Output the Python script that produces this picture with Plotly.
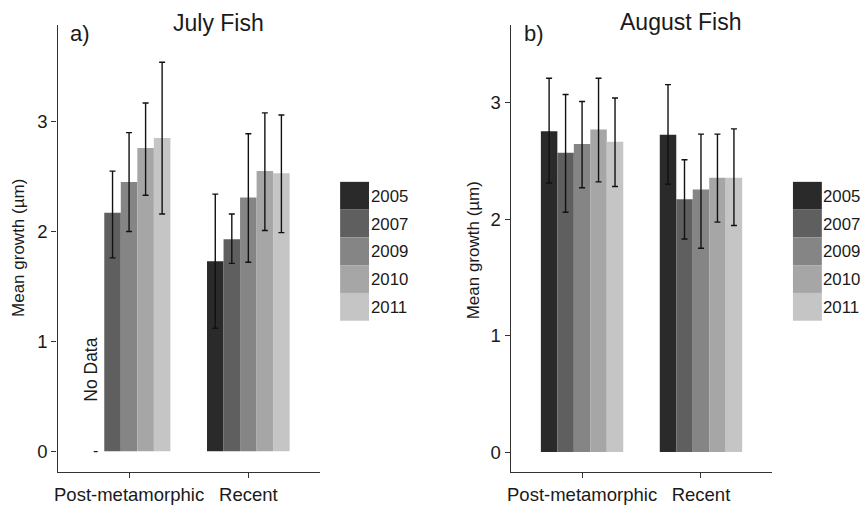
import plotly.graph_objects as go

W, H = 863, 505

years = ["2005", "2007", "2009", "2010", "2011"]
groups = ["Post-metamorphic", "Recent"]
colors = ["#2a2a2a", "#5f5f5f", "#858585", "#a6a6a6", "#c5c5c5"]

# July Fish (panel a)
july_mean_post = [None, 2.17, 2.45, 2.76, 2.85]
july_hi_post = [None, 2.55, 2.90, 3.17, 3.54]
july_lo_post = [None, 1.76, 2.00, 2.33, 2.16]
july_mean_recent = [1.73, 1.93, 2.31, 2.55, 2.53]
july_hi_recent = [2.34, 2.16, 2.89, 3.08, 3.06]
july_lo_recent = [1.12, 1.71, 1.72, 2.01, 1.99]

# August Fish (panel b)
aug_mean_post = [2.755, 2.57, 2.645, 2.77, 2.665]
aug_hi_post = [3.21, 3.07, 3.01, 3.21, 3.04]
aug_lo_post = [2.31, 2.06, 2.27, 2.32, 2.28]
aug_mean_recent = [2.725, 2.17, 2.255, 2.355, 2.355]
aug_hi_recent = [3.155, 2.51, 2.73, 2.73, 2.775]
aug_lo_recent = [2.30, 1.83, 1.75, 1.975, 1.945]

y_ticks = [0, 1, 2, 3]
FONT = "Liberation Sans, Arial, sans-serif"
TXT = "#1a1a1a"


def px(x):
    return x / W


def py(y):
    return 1 - y / H


def diff(a, b):
    return None if a is None or b is None else a - b


fig = go.Figure()

panels = [
    ("x", "y", (july_mean_post, july_hi_post, july_lo_post),
     (july_mean_recent, july_hi_recent, july_lo_recent)),
    ("x2", "y2", (aug_mean_post, aug_hi_post, aug_lo_post),
     (aug_mean_recent, aug_hi_recent, aug_lo_recent)),
]

for xa, ya, post, rec in panels:
    for i, yr in enumerate(years):
        means = [post[0][i], rec[0][i]]
        plus = [diff(post[1][i], post[0][i]), diff(rec[1][i], rec[0][i])]
        minus = [diff(post[0][i], post[2][i]), diff(rec[0][i], rec[2][i])]
        fig.add_trace(go.Bar(
            x=groups, y=means, name=yr, xaxis=xa, yaxis=ya,
            marker=dict(color=colors[i], line=dict(width=0)),
            error_y=dict(type="data", symmetric=False, array=plus,
                         arrayminus=minus, color="#111111",
                         thickness=1.4, width=3),
            showlegend=False,
        ))

axis_common = dict(showline=True, linecolor="#333333", linewidth=1.3,
                   ticks="outside", ticklen=5, tickwidth=1.2,
                   tickcolor="#333333", showgrid=False, zeroline=False,
                   tickfont=dict(family=FONT, size=18.5, color=TXT))

fig.update_layout(
    width=W, height=H,
    margin=dict(l=0, r=0, t=0, b=0),
    paper_bgcolor="white", plot_bgcolor="white",
    barmode="group", bargap=0.307, bargroupgap=0,
    font=dict(family=FONT, color=TXT),
    xaxis=dict(domain=[px(54.7), px(318)], anchor="y", range=[-0.6, 1.6],
               type="category", **axis_common),
    yaxis=dict(domain=[py(476), py(25)], anchor="x", range=[-0.19, 3.881],
               tickvals=y_ticks, **axis_common),
    xaxis2=dict(domain=[px(509.5), px(772)], anchor="y2", range=[-0.6, 1.6],
                type="category", **axis_common),
    yaxis2=dict(domain=[py(476), py(25)], anchor="x2", range=[-0.173, 3.669],
                tickvals=y_ticks, **axis_common),
)

ann = []
# titles and panel letters
ann.append(dict(text="July Fish", x=px(216.5), y=py(23), xanchor="center",
                yanchor="middle", font=dict(size=23, family=FONT, color=TXT)))
ann.append(dict(text="a)", x=px(65), y=py(34), xanchor="left",
                yanchor="middle", font=dict(size=22, family=FONT, color=TXT)))
ann.append(dict(text="August Fish", x=px(617), y=py(22), xanchor="left",
                yanchor="middle", font=dict(size=23, family=FONT, color=TXT)))
ann.append(dict(text="b)", x=px(520.5), y=py(34), xanchor="left",
                yanchor="middle", font=dict(size=22, family=FONT, color=TXT)))
# y-axis titles
for xc, yc in [(15, 250), (472, 252)]:
    ann.append(dict(text="Mean growth (µm)", x=px(xc), y=py(yc), textangle=-90,
                    xanchor="center", yanchor="middle",
                    font=dict(size=17, family=FONT, color=TXT)))
# No Data note
ann.append(dict(text="No Data", x=px(87.5), y=py(372.5), textangle=-90,
                xanchor="center", yanchor="middle",
                font=dict(size=17.5, family=FONT, color=TXT)))
ann.append(dict(text="-", x=px(92.7), y=py(454), xanchor="center",
                yanchor="middle", font=dict(size=16, family=FONT, color=TXT)))

shapes = []
# manual legends
for lx in [338.3, 792.7]:
    for i, yr in enumerate(years):
        top = 183.3 + 28 * i
        shapes.append(dict(type="rect", xref="paper", yref="paper",
                           x0=px(lx), x1=px(lx + 29), y0=py(top + 28), y1=py(top),
                           fillcolor=colors[i], line=dict(width=0)))
        ann.append(dict(text=yr, x=px(lx + 29.5), y=py(top + 14.5), xanchor="left",
                        yanchor="middle", borderpad=0,
                        font=dict(size=16.8, family=FONT, color=TXT)))

for a in ann:
    a.update(xref="paper", yref="paper", showarrow=False)

fig.update_layout(annotations=ann, shapes=shapes)

fig.write_html(
    "out.html",
    config={"displayModeBar": False},
    post_script="document.body.style.margin='0';document.body.style.overflow='hidden';",
)
